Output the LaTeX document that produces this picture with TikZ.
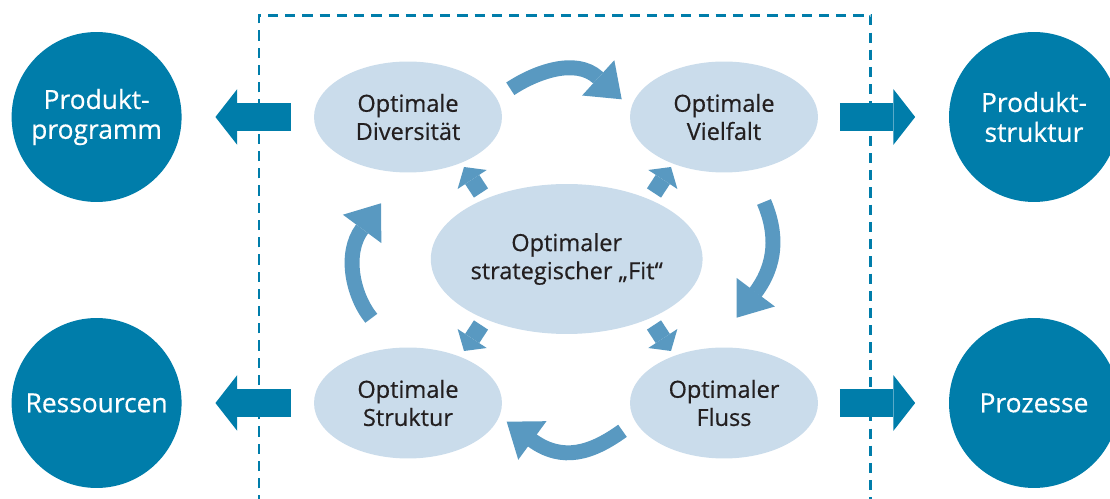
\documentclass[tikz,border=0pt]{standalone}
\usepackage{fontspec}
\setmainfont{Open Sans}[FakeBold=0.5]
\usetikzlibrary{shapes.geometric,arrows.meta}
\definecolor{darkblue}{RGB}{0,125,170}
\definecolor{lightblue}{RGB}{202,220,235}
\definecolor{midblue}{RGB}{89,153,193}
\definecolor{txt}{RGB}{35,31,32}
\begin{document}
\begin{tikzpicture}[x=0.02cm,y=-0.02cm,
  bigcircle/.style={circle, fill=darkblue, minimum size=3.4cm, inner sep=0pt, text=white, align=center, font=\fontsize{15pt}{17pt}\selectfont},
  optell/.style={ellipse, fill=lightblue, minimum width=3.76cm, minimum height=2.22cm, inner sep=0pt, text=txt, align=center, font=\fontsize{13.4pt}{16pt}\selectfont},
  fitell/.style={optell, minimum width=5.08cm, minimum height=3.0cm},
  blockarrow/.style={draw=darkblue, line width=16.3pt, -{Triangle[length=12.4pt,width=31.7pt,line width=0pt]}},
  curvearrow/.style={draw=midblue, line width=8.5pt, -{Triangle[length=18.1pt,width=27.2pt,line width=0pt]}},
  smallarrow/.style={draw=midblue, line width=9.6pt, -{Triangle[length=8.5pt,width=19.8pt,line width=0pt]}},
  dashedframe/.style={draw=darkblue, line width=1.7pt, dash pattern=on 5.8pt off 4pt}
]
\useasboundingbox (0,0) rectangle (1110,499);
\clip (0,0) rectangle (1110,499);

% dashed frame
\draw[dashedframe] (259,540) -- (259,15.3) -- (870.7,15.3) -- (870.7,540);

% outer circles
\node[bigcircle] (pp) at (96.6,117) {Produkt-\\programm};
\node[bigcircle] (ps) at (1034,117) {Produkt-\\struktur};
\node[bigcircle] (res) at (96.6,403) {Ressourcen};
\node[bigcircle] (proz) at (1034,403) {Prozesse};

% inner ellipses
\node[optell] (div) at (408,117) {Optimale\\Diversität};
\node[optell] (vf) at (724,117) {Optimale\\Vielfalt};
\node[optell] (str) at (408,403) {Optimale\\Struktur};
\node[optell] (fl) at (724,403) {Optimaler\\Fluss};
\node[fitell] (fit) at (566.7,259) {Optimaler\\strategischer „Fit“};

% block arrows
\draw[blockarrow, shorten <=0.46cm, shorten >=0.67cm] (div.west) -- (pp.east);
\draw[blockarrow, shorten <=0.43cm, shorten >=0.67cm] (vf.east) -- (ps.west);
\draw[blockarrow, shorten <=0.46cm, shorten >=0.67cm] (str.west) -- (res.east);
\draw[blockarrow, shorten <=0.43cm, shorten >=0.67cm] (fl.east) -- (proz.west);

% curved arrows (cycle)
\coordinate (t1) at (510.3,88.8);  \coordinate (b1) at (597.8,77.5);  \coordinate (h1) at (621.7,99.3);
\coordinate (t2) at (764,202);     \coordinate (b2) at (755.5,292.5); \coordinate (h2) at (736.7,317.7);
\coordinate (t3) at (622.5,430.8); \coordinate (b3) at (531.7,440);   \coordinate (h3) at (506.7,421.7);
\coordinate (t4) at (371.3,318.3); \coordinate (b4) at (361.9,229.2); \coordinate (h4) at (381,203.3);
\draw[curvearrow] (t1) .. controls +(-33.6:30) and +(222.4:30) .. (b1) -- (h1);
\draw[curvearrow] (t2) .. controls +(67:35) and +(306.7:35) .. (b2) -- (h2);
\draw[curvearrow] (t3) .. controls +(144.3:38) and +(36.2:38) .. (b3) -- (h3);
\draw[curvearrow] (t4) .. controls +(-129:30) and +(126.4:30) .. (b4) -- (h4);

% small arrows from the centre
\coordinate (s1) at (481,193); \coordinate (e1) at (464,167);
\coordinate (s2) at (654,193); \coordinate (e2) at (671,167);
\coordinate (s3) at (481,325); \coordinate (e3) at (464,351);
\coordinate (s4) at (654,325); \coordinate (e4) at (671,351);
\draw[smallarrow] (s1) -- (e1);
\draw[smallarrow] (s2) -- (e2);
\draw[smallarrow] (s3) -- (e3);
\draw[smallarrow] (s4) -- (e4);
\end{tikzpicture}
\end{document}
